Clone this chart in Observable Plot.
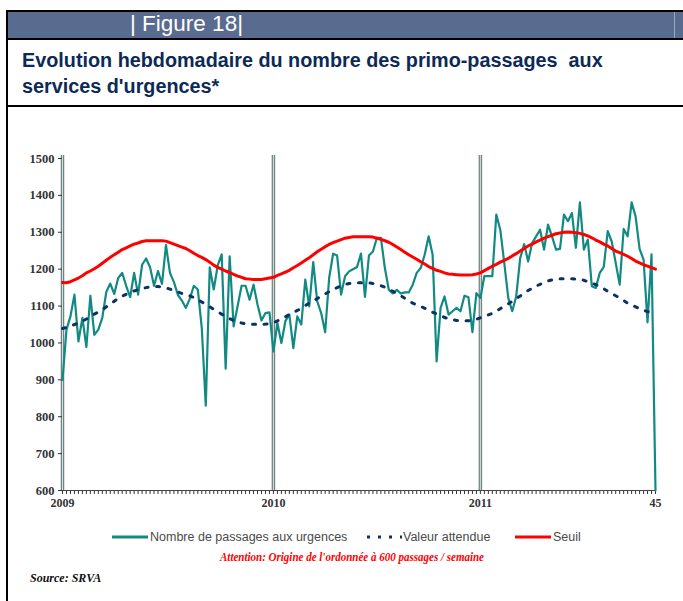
<!DOCTYPE html>
<html>
<head>
<meta charset="utf-8">
<script src="https://cdn.jsdelivr.net/npm/d3@7"></script>
<script src="https://cdn.jsdelivr.net/npm/@observablehq/plot@0.6"></script>
<style>
  html, body { margin: 0; padding: 0; background: #fff; }
  #page { position: relative; width: 683px; height: 601px; overflow: hidden; background: #fff; }
  .abs { position: absolute; }
  #title { left: 22px; top: 47px; font: bold 19.5px "Liberation Sans", Arial, sans-serif; color: #0c2a55; line-height: 26px; white-space: nowrap; transform-origin: 0 0; transform: scaleX(1.015); }
  #fig { left: 130px; top: 11px; font: 22.5px "Liberation Sans", Arial, sans-serif; color: #fff; line-height: 26px; white-space: nowrap; }
  .leg { font: 12.5px "Liberation Sans Narrow", "Liberation Sans", sans-serif; color: #4a4a4a; white-space: nowrap; top: 528px; line-height: 18px; }
  #attn { left: 352px; top: 550px; transform: translateX(-50%) scaleX(0.88); font: italic bold 12.5px "Liberation Serif", serif; color: #ff0000; white-space: nowrap; }
  #src { left: 30px; top: 571px; font: italic bold 12px "Liberation Serif", serif; color: #111; white-space: nowrap; }
  #chart { left: 0; top: 140px; }
</style>
</head>
<body>
<div id="page">
  <div class="abs" style="left:6px;top:10px;width:677px;height:2px;background:#000"></div>
  <div class="abs" style="left:6px;top:12px;width:677px;height:26px;background:#5a6b90"></div>
  <div class="abs" style="left:674px;top:12px;width:1px;height:26px;background:#9aa6c0"></div>
  <div class="abs" style="left:6px;top:38px;width:677px;height:2px;background:#000"></div>
  <div class="abs" style="left:6px;top:105px;width:677px;height:2px;background:#000"></div>
  <div class="abs" style="left:6px;top:10px;width:2px;height:591px;background:#000"></div>
  <div id="fig" class="abs">| Figure 18|</div>
  <div id="title" class="abs">Evolution hebdomadaire du nombre des primo-passages&nbsp; aux<br>services d'urgences*</div>
  <div id="chart" class="abs"></div>
  <svg class="abs" style="left:0;top:0" width="683" height="601" id="legsvg"></svg>
  <div class="abs leg" id="leg1" style="left:150px">Nombre de passages aux urgences</div>
  <div class="abs leg" id="leg2" style="left:403px">Valeur attendue</div>
  <div class="abs leg" id="leg3" style="left:553px">Seuil</div>
  <div id="attn" class="abs">Attention: Origine de l'ordonnée à 600 passages / semaine</div>
  <div id="src" class="abs">Source: SRVA</div>
</div>
<script>
// Weekly values, 2009 week 1 (index 0) to 2011 week 45 (index 149)
const passages = [
  900,1036,1072,1131,1004,1068,989,1128,1022,1036,
  1068,1138,1161,1133,1176,1190,1155,1124,1190,1131,
  1212,1229,1205,1155,1195,1160,1265,1190,1165,1130,
  1115,1095,1120,1155,1145,1040,830,1205,1145,1210,
  1240,930,1235,1045,1100,1155,1155,1117,1158,1104,
  1061,1081,1083,977,1054,1000,1059,1077,986,1072,
  1050,1172,1099,1219,1113,1081,1029,1176,1242,1237,
  1131,1181,1194,1200,1206,1242,1125,1237,1248,1285,
  1285,1203,1144,1134,1144,1134,1137,1137,1158,1190,
  1203,1239,1289,1239,950,1095,1126,1077,1086,1095,
  1086,1128,1124,1029,1135,1122,1181,1181,1181,1348,
  1307,1217,1122,1086,1126,1230,1268,1221,1271,1289,
  1307,1253,1321,1289,1253,1255,1348,1330,1352,1258,
  1381,1253,1280,1154,1149,1190,1206,1303,1275,1217,
  1158,1309,1289,1381,1343,1255,1226,1056,1240,600
];
const attendue = [
  1039,1042,1046,1050,1054,1059,1065,1071,1078,1084,
  1090,1098,1105,1113,1121,1127,1132,1137,1141,1144,
  1147,1150,1152,1153,1153,1152,1149,1146,1142,1138,
  1134,1131,1128,1123,1117,1111,1105,1098,1091,1085,
  1078,1072,1066,1061,1057,1054,1052,1051,1051,1050,
  1050,1051,1052,1055,1060,1065,1071,1077,1083,1088,
  1094,1101,1108,1114,1120,1127,1133,1139,1145,1150,
  1155,1159,1161,1162,1163,1163,1163,1163,1161,1158,
  1155,1151,1146,1140,1134,1128,1121,1114,1108,1103,
  1099,1094,1089,1083,1079,1075,1069,1066,1063,1061,
  1060,1060,1060,1061,1064,1068,1072,1076,1080,1086,
  1093,1099,1106,1113,1120,1127,1135,1142,1148,1154,
  1159,1164,1168,1171,1173,1174,1174,1174,1174,1173,
  1172,1170,1166,1162,1158,1153,1147,1140,1134,1128,
  1122,1115,1108,1103,1098,1093,1089,1085,1082,1080
];
const seuil = [
  1164,1163,1166,1171,1176,1182,1190,1195,1201,1208,
  1216,1224,1232,1239,1246,1253,1258,1263,1268,1271,
  1275,1277,1277,1277,1277,1277,1276,1272,1268,1264,
  1260,1256,1250,1243,1237,1232,1226,1219,1211,1205,
  1200,1195,1191,1186,1181,1178,1174,1173,1172,1172,
  1172,1174,1176,1178,1183,1187,1192,1197,1204,1210,
  1217,1224,1231,1239,1247,1254,1261,1267,1272,1276,
  1280,1284,1286,1288,1288,1288,1288,1288,1287,1284,
  1281,1277,1273,1267,1260,1253,1246,1239,1233,1227,
  1220,1214,1207,1202,1197,1194,1190,1187,1186,1185,
  1184,1184,1184,1185,1187,1190,1196,1202,1208,1213,
  1219,1224,1229,1236,1242,1249,1256,1263,1268,1274,
  1279,1284,1288,1292,1296,1298,1300,1301,1300,1299,
  1297,1294,1290,1285,1279,1274,1268,1263,1256,1249,
  1245,1240,1235,1229,1222,1217,1212,1208,1204,1200
];
const yearStarts = [0, 53, 105];
const xLabelPos = [0, 53, 105, 149];
const xLabels = ["2009", "2010", "2011", "45"];
const yTicks = [600, 700, 800, 900, 1000, 1100, 1200, 1300, 1400, 1500];

const weeks = passages.map((_, i) => i);
const rows = weeks.map(i => ({ w: i, passages: passages[i], attendue: attendue[i], seuil: seuil[i] }));

const COL_TEAL = "#128a83";
const COL_NAVY = "#0b3262";
const COL_RED = "#ff0000";

const chart = Plot.plot({
  width: 683,
  height: 380,
  marginLeft: 62,
  marginRight: 28,
  marginTop: 18,
  marginBottom: 30,
  x: { domain: [0, 149], axis: null },
  y: { domain: [600, 1500], axis: null },
  style: { fontFamily: "'Liberation Serif', serif", fontWeight: "bold", fontSize: "12px", color: "#333", overflow: "visible", background: "transparent" },
  marks: [
    Plot.ruleX(yearStarts, { x: d => d, y1: 600, y2: 1508, stroke: "#6f8482", strokeWidth: 3.5 }),
    Plot.ruleX(yearStarts, { x: d => d, y1: 600, y2: 1508, stroke: "#d2e2e0", strokeWidth: 1 }),
    Plot.axisY({ ticks: yTicks, tickSize: 4, tickPadding: 4, tickFormat: d => String(d), stroke: "#333", label: null, fontSize: 12.5 }),
    Plot.axisX({ ticks: weeks, tickSize: 4, tickFormat: () => "", stroke: "#333", label: null }),
    Plot.axisX({ ticks: xLabelPos, tickSize: 0, tickPadding: 8, tickFormat: d => xLabels[xLabelPos.indexOf(d)], label: null }),
    Plot.ruleY([600], { stroke: "#444", strokeWidth: 1.2 }),
    Plot.line(rows, { x: "w", y: "passages", stroke: COL_TEAL, strokeWidth: 2.2 }),
    Plot.line(rows, { x: "w", y: "attendue", stroke: COL_NAVY, strokeWidth: 3, strokeDasharray: "3,8.6" }),
    Plot.line(rows, { x: "w", y: "seuil", stroke: COL_RED, strokeWidth: 3 })
  ]
});
document.getElementById("chart").appendChild(chart);

// legend swatches
const ls = d3.select("#legsvg");
const ly = 537;
ls.append("line").attr("x1", 112).attr("x2", 148).attr("y1", ly).attr("y2", ly).attr("stroke", COL_TEAL).attr("stroke-width", 3);
ls.append("line").attr("x1", 367).attr("x2", 402).attr("y1", ly).attr("y2", ly).attr("stroke", COL_NAVY).attr("stroke-width", 3).attr("stroke-dasharray", "3,8");
ls.append("line").attr("x1", 515).attr("x2", 551).attr("y1", ly).attr("y2", ly).attr("stroke", COL_RED).attr("stroke-width", 3);
</script>
</body>
</html>
